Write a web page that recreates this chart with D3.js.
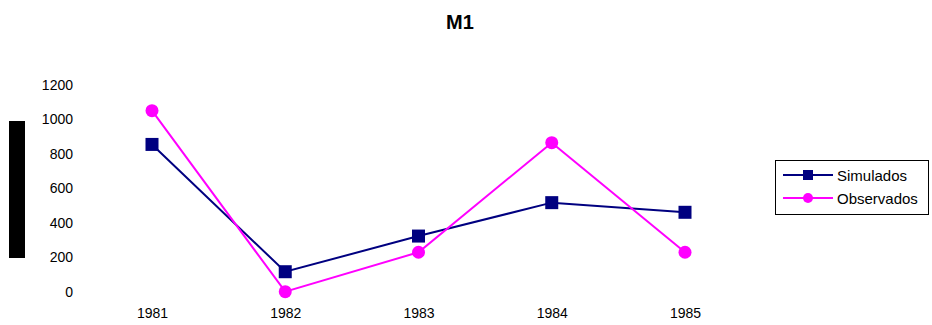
<!DOCTYPE html>
<html>
<head>
<meta charset="utf-8">
<script src="https://cdn.jsdelivr.net/npm/d3@7"></script>
<style>
  html, body { margin: 0; padding: 0; background: #fff; }
  svg { display: block; font-family: "Liberation Sans", Arial, sans-serif; }
</style>
</head>
<body>
<svg id="chart" width="932" height="325"></svg>
<script>
// Annual values, M1
const years = ["1981", "1982", "1983", "1984", "1985"];
const simulados = [855, 116, 323, 517, 461];
const observados = [1051, 0, 229, 865, 229];
const yTicks = [0, 200, 400, 600, 800, 1000, 1200];
const seriesNames = ["Simulados", "Observados"];
const seriesColors = ["#000080", "#FF00FF"];

const svg = d3.select("#chart");

const x = d3.scalePoint().domain(years).range([152, 685]);
const y = d3.scaleLinear().domain([0, 1200]).range([291.7, 85]);

// Title
svg.append("text")
  .attr("x", 460).attr("y", 29)
  .attr("text-anchor", "middle")
  .attr("font-size", 20).attr("font-weight", "bold")
  .text("M1");

// Vertical axis title block
svg.append("rect")
  .attr("x", 9).attr("y", 121).attr("width", 16).attr("height", 137)
  .attr("fill", "#000");

// Y axis (labels only)
const yAxis = svg.append("g")
  .attr("transform", "translate(73,0)")
  .call(d3.axisLeft(y).tickValues(yTicks).tickSize(0).tickPadding(0).tickFormat(d3.format("d")));
yAxis.select(".domain").remove();
yAxis.selectAll("text").attr("font-size", 14).attr("fill", "#000")
  .attr("font-family", "Liberation Sans, Arial, sans-serif");

// X axis (labels only)
const xAxis = svg.append("g")
  .attr("transform", "translate(0,308)")
  .call(d3.axisBottom(x).tickSize(0).tickPadding(0));
xAxis.select(".domain").remove();
xAxis.selectAll("text").attr("font-size", 14).attr("fill", "#000")
  .attr("font-family", "Liberation Sans, Arial, sans-serif");

const line = d3.line().x((d, i) => x(years[i])).y(d => y(d));

// Simulados series
svg.append("path").datum(simulados)
  .attr("d", line).attr("fill", "none")
  .attr("stroke", seriesColors[0]).attr("stroke-width", 2);
svg.selectAll(".sq").data(simulados).enter().append("rect")
  .attr("class", "sq")
  .attr("x", (d, i) => x(years[i]) - 6.5).attr("y", d => y(d) - 6.5)
  .attr("width", 13).attr("height", 13)
  .attr("fill", seriesColors[0]);

// Observados series
svg.append("path").datum(observados)
  .attr("d", line).attr("fill", "none")
  .attr("stroke", seriesColors[1]).attr("stroke-width", 2);
svg.selectAll(".ci").data(observados).enter().append("circle")
  .attr("class", "ci")
  .attr("cx", (d, i) => x(years[i])).attr("cy", d => y(d))
  .attr("r", 6.5)
  .attr("fill", seriesColors[1]);

// Legend
const legend = svg.append("g");
legend.append("rect")
  .attr("x", 775.5).attr("y", 160.5).attr("width", 153).attr("height", 54)
  .attr("fill", "#fff").attr("stroke", "#000").attr("stroke-width", 1);
seriesNames.forEach((name, i) => {
  const cy = 175 + i * 23;
  legend.append("line")
    .attr("x1", 783).attr("x2", 833).attr("y1", cy).attr("y2", cy)
    .attr("stroke", seriesColors[i]).attr("stroke-width", 2);
  if (i === 0) {
    legend.append("rect").attr("x", 803).attr("y", cy - 5).attr("width", 10).attr("height", 10)
      .attr("fill", seriesColors[i]);
  } else {
    legend.append("circle").attr("cx", 808).attr("cy", cy).attr("r", 5)
      .attr("fill", seriesColors[i]);
  }
  legend.append("text")
    .attr("x", 837).attr("y", cy + 5.5)
    .attr("font-size", 15).attr("fill", "#000")
    .text(name);
});
</script>
</body>
</html>
